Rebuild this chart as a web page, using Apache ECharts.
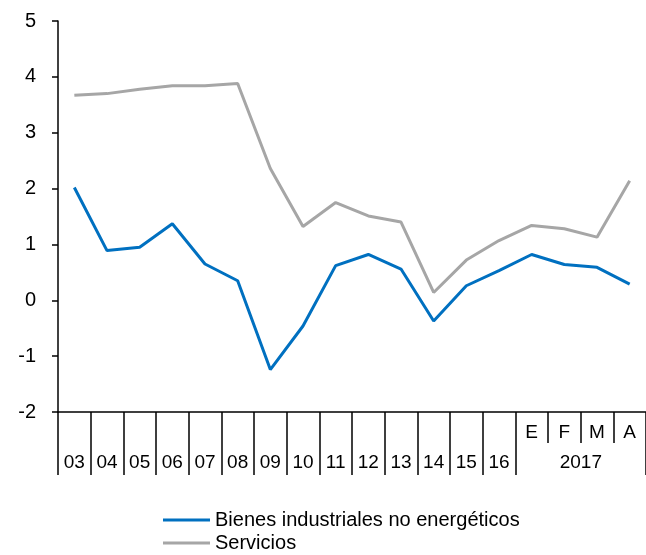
<!DOCTYPE html>
<html>
<head>
<meta charset="utf-8">
<script src="https://cdn.jsdelivr.net/npm/echarts@6/dist/echarts.min.js"></script>
<style>
  html, body { margin: 0; padding: 0; background: #fff; }
  #chart { width: 646px; height: 555px; }
</style>
</head>
<body>
<div id="chart"></div>
<script>
// categorias: años 2003-2016 y meses de 2017
const categories = ['03', '04', '05', '06', '07', '08', '09', '10', '11', '12', '13', '14', '15', '16', 'E', 'F', 'M', 'A']
const yearLabels = ['03', '04', '05', '06', '07', '08', '09', '10', '11', '12', '13', '14', '15', '16', '', '2017', '', '']
const monthLabels = ['', '', '', '', '', '', '', '', '', '', '', '', '', '', 'E', 'F', 'M', 'A']
const bienes = [2.02, 0.89, 0.95, 1.37, 0.65, 0.35, -1.24, -0.46, 0.62, 0.82, 0.56, -0.37, 0.26, 0.53, 0.82, 0.64, 0.59, 0.29]
const servicios = [3.67, 3.70, 3.78, 3.84, 3.84, 3.88, 2.36, 1.32, 1.75, 1.51, 1.40, 0.14, 0.72, 1.07, 1.34, 1.28, 1.13, 2.14]
const firstMonth = 14

const chart = echarts.init(document.getElementById('chart'))
const font = 'Liberation Sans, Arial, sans-serif'

const legendBase = {
  left: 163,
  padding: 0,
  itemWidth: 47,
  itemHeight: 3,
  icon: 'rect',
  textStyle: { fontFamily: font, fontSize: 20, color: '#000' }
}

const option = {
  animation: false,
  grid: { left: 58, top: 21, width: 595, height: 391 },
  legend: [
    Object.assign({}, legendBase, { top: 510, data: ['Bienes industriales no energéticos'] }),
    Object.assign({}, legendBase, { top: 533, data: ['Servicios'] })
  ],
  xAxis: [
    {
      type: 'category',
      data: categories,
      position: 'bottom',
      axisLine: { onZero: false, lineStyle: { color: '#000', width: 1.5 } },
      axisTick: {
        show: true,
        length: 63,
        interval: (i) => i <= firstMonth,
        lineStyle: { color: '#000', width: 1.5 }
      },
      axisLabel: {
        interval: 0,
        margin: 41,
        fontFamily: font,
        fontSize: 19,
        color: '#000',
        formatter: (v, i) => yearLabels[i] === '2017' ? '{y|2017}' : yearLabels[i],
        rich: { y: { fontFamily: font, fontSize: 19, color: '#000', padding: [0, 0, 0, 33] } }
      }
    },
    {
      type: 'category',
      data: categories,
      position: 'bottom',
      axisLine: { show: false, onZero: false },
      axisTick: {
        show: true,
        length: 31,
        interval: (i) => i > firstMonth,
        lineStyle: { color: '#000', width: 1.5 }
      },
      axisLabel: {
        interval: 0,
        margin: 11,
        fontFamily: font,
        fontSize: 19,
        color: '#000',
        formatter: (v, i) => monthLabels[i]
      }
    }
  ],
  yAxis: {
    type: 'value',
    min: -2,
    max: 5,
    interval: 1,
    axisLine: { show: true, lineStyle: { color: '#000', width: 1.5 } },
    axisTick: { show: true, inside: false, length: 6, lineStyle: { color: '#000', width: 1.5 } },
    splitLine: { show: false },
    axisLabel: { margin: 22, fontFamily: font, fontSize: 20, color: '#000' }
  },
  series: [
    {
      name: 'Bienes industriales no energéticos',
      type: 'line',
      data: bienes,
      symbol: 'none',
      itemStyle: { color: '#0070C0' },
      lineStyle: { color: '#0070C0', width: 3 }
    },
    {
      name: 'Servicios',
      type: 'line',
      data: servicios,
      symbol: 'none',
      itemStyle: { color: '#A6A6A6' },
      lineStyle: { color: '#A6A6A6', width: 3 }
    }
  ]
}

chart.setOption(option)
</script>
</body>
</html>
